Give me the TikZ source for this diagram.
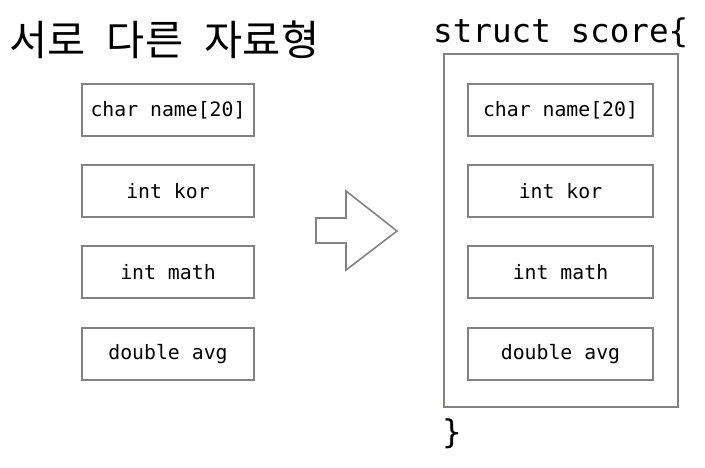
\documentclass[tikz,border=0pt]{standalone}
\usepackage{fontspec}
\setmonofont{DejaVu Sans Mono}
\newfontfamily\kofont[WordSpace=2.3]{Noto Sans CJK KR}
\definecolor{boxgray}{RGB}{128,130,133}
\tikzset{
  fieldbox/.style={draw=boxgray,line width=2pt,minimum width=172pt,minimum height=52pt,
    font=\fontsize{19.8}{22}\selectfont\ttfamily,inner sep=0pt},
  bigtext/.style={font=\fontsize{32.6}{36}\selectfont\ttfamily,inner sep=0pt}
}
\begin{document}
\begin{tikzpicture}[x=1pt,y=-1pt]
\useasboundingbox (0,0) rectangle (705,467);
\def\lx{168}
\def\rx{560.5}

\node[anchor=base west,inner sep=0pt,font=\fontsize{41.5}{48}\selectfont\kofont] (title) at (9,55) {서로 다른 자료형};

\node[fieldbox] (lname) at (\lx,110) {char name[20]};
\node[fieldbox] (lkor) at (\lx,191) {int kor};
\node[fieldbox] (lmath) at (\lx,272) {int math};
\node[fieldbox] (lavg) at (\lx,354) {double avg};

\draw[boxgray,line width=1.6pt,line join=miter] (316,218) -- (346,218) -- (346,191) -- (397,231)
  -- (346,270) -- (346,243) -- (316,243) -- cycle;

\node[anchor=base west,bigtext] (head) at (433,42) {struct score\{};
\node[draw=boxgray,line width=2pt,minimum width=234pt,minimum height=353pt,inner sep=0pt] (structbox) at (\rx,230.5) {};
\node[fieldbox,minimum width=185pt] (rname) at (\rx,110) {char name[20]};
\node[fieldbox,minimum width=185pt] (rkor) at (\rx,191) {int kor};
\node[fieldbox,minimum width=185pt] (rmath) at (\rx,272) {int math};
\node[fieldbox,minimum width=185pt] (ravg) at (\rx,354) {double avg};
\node[anchor=base west,bigtext] (tail) at (442,443) {\}};

\end{tikzpicture}
\end{document}
